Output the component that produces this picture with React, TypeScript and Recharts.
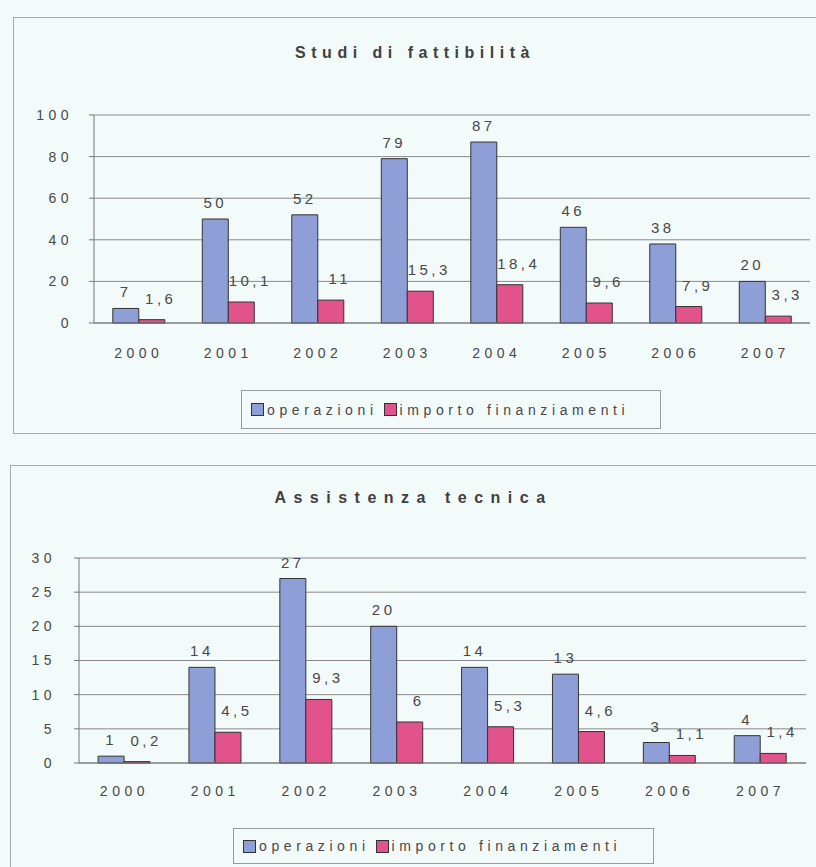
import React from 'react';
import { BarChart, Bar, XAxis, YAxis, CartesianGrid, Legend, LabelList } from 'recharts';

const years = ['2000', '2001', '2002', '2003', '2004', '2005', '2006', '2007'];

// Studi di fattibilità
const studiOperazioni = [7, 50, 52, 79, 87, 46, 38, 20];
const studiImporto = [1.6, 10.1, 11, 15.3, 18.4, 9.6, 7.9, 3.3];
const studiTicks = [0, 20, 40, 60, 80, 100];

// Assistenza tecnica
const assistenzaOperazioni = [1, 14, 27, 20, 14, 13, 3, 4];
const assistenzaImporto = [0.2, 4.5, 9.3, 6, 5.3, 4.6, 1.1, 1.4];
const assistenzaTicks = [0, 5, 10, 15, 20, 25, 30];

const BLUE = '#8e9fd8';
const PINK = '#e2538c';
const TEXT = '#484848';
const FONT = '"Liberation Sans", Arial, sans-serif';

const buildRows = (ops: number[], imp: number[]) =>
  years.map((year, i) => ({ year, operazioni: ops[i], importo: imp[i] }));

const comma = (v: any) => String(v).replace('.', ',');

const LegendBox = ({ width, height }: { width: number; height: number }) => (
  <div
    style={{
      width,
      height,
      boxSizing: 'border-box',
      border: '1px solid #9a9a9a',
      display: 'flex',
      alignItems: 'center',
      paddingLeft: 9,
      fontFamily: FONT,
      fontSize: 14,
      letterSpacing: 4.6,
      color: TEXT,
    }}
  >
    <span style={{ width: 11, height: 11, background: BLUE, border: '1px solid #333', marginRight: 3 }} />
    <span style={{ marginRight: 6 }}>operazioni</span>
    <span style={{ width: 11, height: 11, background: PINK, border: '1px solid #333', marginRight: 3 }} />
    <span>importo finanziamenti</span>
  </div>
);

interface PanelProps {
  title: string;
  titleSpacing: number;
  titleTop: number;
  left: number;
  top: number;
  width: number;
  height: number;
  ops: number[];
  imp: number[];
  ticks: number[];
  margin: { top: number; right: number; left: number; bottom: number };
  yWidth: number;
  xHeight: number;
  xTickMargin: number;
  yTickMargin: number;
  legendLeft: number;
  legendWidth: number;
  legendHeight: number;
}

const Panel: React.FC<PanelProps> = (p) => {
  const data = buildRows(p.ops, p.imp);
  const max = p.ticks[p.ticks.length - 1];
  return (
    <div
      style={{
        position: 'absolute',
        left: p.left,
        top: p.top,
        width: p.width,
        height: p.height,
        boxSizing: 'border-box',
        borderTop: '1px solid #a8a8a8',
        borderLeft: '1px solid #a8a8a8',
        borderBottom: '1px solid #a8a8a8',
      }}
    >
      <div
        style={{
          position: 'absolute',
          top: p.titleTop - 10,
          left: 0,
          width: '100%',
          textAlign: 'center',
          fontFamily: FONT,
          fontWeight: 'bold',
          fontSize: 16,
          letterSpacing: p.titleSpacing,
          color: '#404040',
        }}
      >
        {p.title}
      </div>
      <BarChart
        width={p.width - 1}
        height={p.height - 2}
        data={data}
        margin={p.margin}
        barCategoryGap="21%"
        barGap={0}
        style={{ fontFamily: FONT }}
      >
        <CartesianGrid vertical={false} stroke="#8a8a8a" />
        <XAxis
          dataKey="year"
          height={p.xHeight}
          tickLine={false}
          axisLine={{ stroke: '#777' }}
          tickMargin={p.xTickMargin}
          tick={{ fontSize: 14, fill: TEXT, letterSpacing: 4.5 }}
        />
        <YAxis
          width={p.yWidth}
          domain={[0, max]}
          ticks={p.ticks}
          interval={0}
          tickSize={5}
          tickMargin={p.yTickMargin}
          axisLine={{ stroke: '#777' }}
          tickLine={{ stroke: '#777' }}
          tick={{ fontSize: 14, fill: TEXT, letterSpacing: 4.5 }}
        />
        <Legend
          verticalAlign="bottom"
          wrapperStyle={{ left: p.legendLeft, width: p.legendWidth }}
          content={() => <LegendBox width={p.legendWidth} height={p.legendHeight} />}
        />
        <Bar dataKey="operazioni" fill={BLUE} stroke="#333" strokeWidth={1} isAnimationActive={false}>
          <LabelList
            dataKey="operazioni"
            position="top"
            offset={11}
            formatter={comma}
            style={{ fontSize: 15, fill: TEXT, letterSpacing: 3.5 }}
          />
        </Bar>
        <Bar dataKey="importo" fill={PINK} stroke="#333" strokeWidth={1} isAnimationActive={false}>
          <LabelList
            dataKey="importo"
            position="top"
            offset={16}
            formatter={comma}
            style={{ fontSize: 15, fill: TEXT, letterSpacing: 3.5, transform: 'translateX(9px)' }}
          />
        </Bar>
      </BarChart>
    </div>
  );
};

export default function App() {
  return (
    <div
      style={{
        position: 'absolute',
        left: 0,
        top: 0,
        width: 816,
        height: 867,
        background: '#f3fafa',
        overflow: 'hidden',
      }}
    >
      <Panel
        title="Studi di fattibilità"
        titleSpacing={5.5}
        titleTop={36}
        left={13}
        top={17}
        width={803}
        height={417}
        ops={studiOperazioni}
        imp={studiImporto}
        ticks={studiTicks}
        margin={{ top: 97, right: 6, left: 0, bottom: 4 }}
        yWidth={80}
        xHeight={67}
        xTickMargin={19}
        yTickMargin={16}
        legendLeft={227}
        legendWidth={420}
        legendHeight={39}
      />
      <Panel
        title="Assistenza tecnica"
        titleSpacing={7.5}
        titleTop={33}
        left={10}
        top={465}
        width={806}
        height={404}
        ops={assistenzaOperazioni}
        imp={assistenzaImporto}
        ticks={assistenzaTicks}
        margin={{ top: 92, right: 10, left: 0, bottom: 4 }}
        yWidth={68}
        xHeight={65}
        xTickMargin={17}
        yTickMargin={18}
        legendLeft={222}
        legendWidth={421}
        legendHeight={36}
      />
    </div>
  );
}
